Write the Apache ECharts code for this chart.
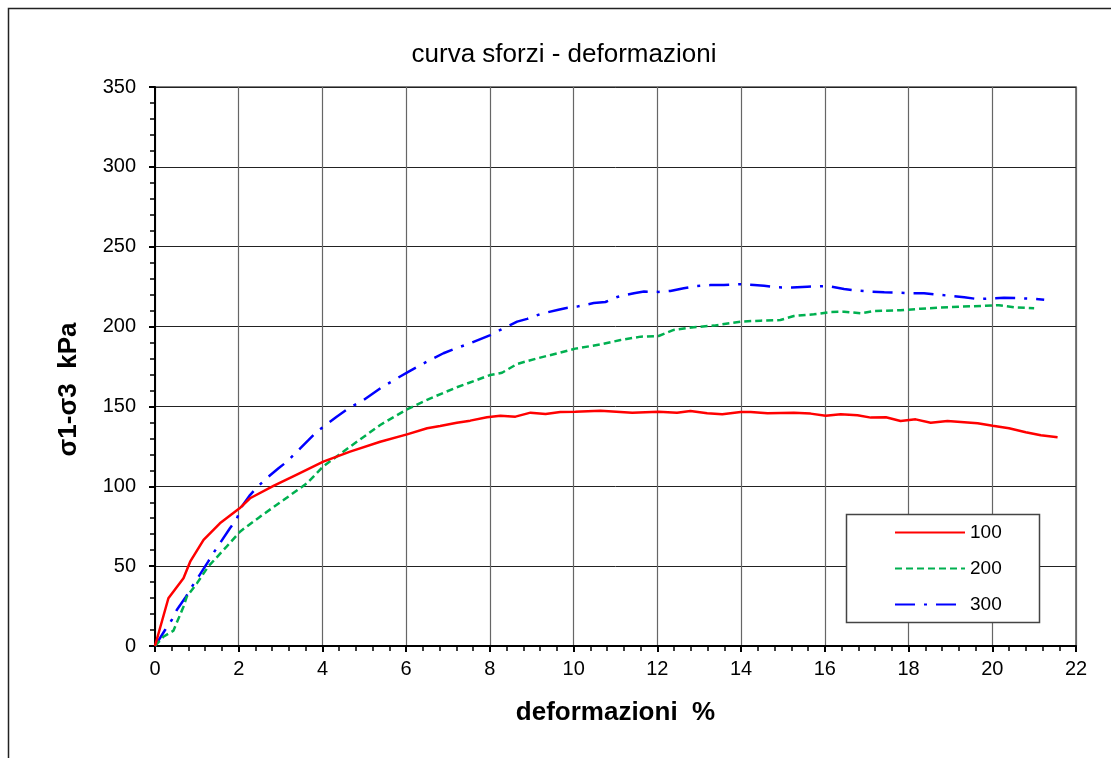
<!DOCTYPE html>
<html>
<head>
<meta charset="utf-8">
<script src="https://cdn.jsdelivr.net/npm/echarts@6/dist/echarts.min.js"></script>
<style>html,body{margin:0;padding:0;background:#fff}#c{width:1111px;height:758px}</style>
</head>
<body>
<div id="c"></div>
<script>
const seriesNames = ['100', '200', '300'];
const xTicks = [0, 2, 4, 6, 8, 10, 12, 14, 16, 18, 20, 22];
const yTicks = [0, 50, 100, 150, 200, 250, 300, 350];

const x100 = [0, 0.32, 0.68, 0.84, 1.16, 1.55, 2.02, 2.27, 2.83, 3.4, 4.02, 4.66, 5.38, 6.02, 6.5, 6.81, 7.21, 7.53, 7.93, 8.25, 8.61, 8.97, 9.33, 9.68, 10.04, 10.64, 11.4, 12.03, 12.47, 12.79, 13.19, 13.55, 13.99, 14.23, 14.63, 15.26, 15.66, 16.02, 16.38, 16.78, 17.1, 17.46, 17.81, 18.17, 18.53, 18.93, 19.65, 20.01, 20.4, 20.8, 21.16, 21.56];
const y100 = [0, 29.9, 42.4, 52.8, 66.4, 76.8, 86.2, 92.5, 100.2, 107.5, 115.4, 121.7, 127.9, 132.5, 136.3, 137.8, 139.8, 141.1, 143.2, 144.2, 143.6, 146.1, 145.3, 146.5, 146.7, 147.3, 146.1, 146.7, 146.1, 147.1, 145.7, 145.1, 146.5, 146.5, 145.7, 146.1, 145.5, 144.2, 145.1, 144.5, 143.0, 143.2, 140.9, 141.9, 139.8, 140.9, 139.5, 137.9, 136.3, 133.8, 131.9, 130.7];

const x200 = [0, 0.2, 0.44, 0.68, 0.76, 1.0, 1.27, 1.71, 2.03, 2.51, 3.07, 3.63, 4.02, 4.66, 5.38, 6.02, 6.58, 7.21, 7.69, 8.01, 8.29, 8.65, 9.13, 9.68, 10.04, 10.64, 11.12, 11.6, 12.03, 12.39, 12.87, 13.35, 13.99, 14.47, 14.94, 15.26, 15.74, 16.14, 16.46, 16.86, 17.18, 17.81, 18.29, 18.77, 19.25, 19.73, 20.16, 20.52, 21.0];
const y200 = [0, 5.8, 9.6, 24.6, 30.9, 39.2, 49.7, 62.2, 71.6, 81.0, 91.4, 101.9, 112.5, 124.8, 138.4, 148.2, 155.1, 162.0, 166.6, 169.7, 171.1, 176.6, 180.1, 183.7, 186.2, 188.8, 191.6, 193.7, 194.1, 197.9, 199.6, 200.6, 203.1, 203.7, 204.1, 206.6, 207.7, 209.1, 209.3, 208.3, 209.8, 210.2, 211.2, 211.9, 212.5, 212.9, 213.4, 212.1, 211.5];

const x300 = [0, 0.24, 0.4, 0.52, 0.74, 0.88, 1.04, 1.27, 1.39, 1.55, 1.79, 1.94, 2.07, 2.27, 2.45, 2.67, 2.95, 3.15, 3.39, 3.67, 3.83, 4.02, 4.34, 4.62, 4.98, 5.42, 5.78, 6.06, 6.5, 6.89, 7.13, 7.53, 8.01, 8.25, 8.65, 8.89, 9.21, 9.61, 9.8, 10.08, 10.48, 10.76, 11.04, 11.44, 11.68, 12.03, 12.31, 12.63, 12.95, 13.27, 13.59, 13.99, 14.31, 14.55, 14.87, 15.22, 15.58, 16.06, 16.46, 16.78, 17.1, 17.42, 17.73, 18.05, 18.37, 18.93, 19.33, 19.65, 19.96, 20.28, 20.6, 21.0, 21.24];
const y300 = [0, 10.0, 16.3, 22.5, 30.9, 37.1, 43.4, 52.8, 58.0, 64.3, 73.7, 78.9, 87.2, 94.5, 99.7, 105.1, 111.3, 115.4, 121.7, 129.0, 133.2, 137.3, 143.6, 148.8, 154.0, 162.0, 167.6, 171.8, 178.1, 183.3, 185.8, 189.6, 194.7, 197.9, 203.1, 204.8, 207.9, 210.4, 211.5, 212.5, 214.7, 215.4, 218.5, 220.9, 221.9, 221.7, 222.3, 224.0, 225.4, 226.0, 226.0, 226.5, 226.0, 225.6, 224.6, 224.4, 225.0, 225.4, 223.5, 222.5, 221.9, 221.5, 221.3, 220.9, 220.9, 219.4, 218.4, 217.2, 217.6, 218.0, 217.8, 217.4, 216.8];

const pairs = (xs, ys) => xs.map((x, i) => [x, ys[i]]);
const FONT = "'Liberation Sans', Arial, sans-serif";

const chart = echarts.init(document.getElementById('c'), null, {renderer: 'canvas'});
chart.setOption({
  backgroundColor: '#fff',
  animation: false,
  title: {
    text: 'curva sforzi - deformazioni',
    left: 559, top: 37, textAlign: 'center',
    textStyle: {fontFamily: FONT, fontSize: 26, fontWeight: 'normal', color: '#000'}
  },
  graphic: [
    {type: 'rect', shape: {x: 8.5, y: 8.5, width: 1200, height: 800},
     style: {fill: 'none', stroke: '#222', lineWidth: 1.5}, z: -1},
    {type: 'rect', shape: {x: 846.5, y: 514.5, width: 193, height: 108},
     style: {fill: '#fff', stroke: '#444', lineWidth: 1.5}, z: 50}
  ],
  legend: {
    orient: 'vertical', left: 889, top: 518, z: 60,
    icon: 'inherit',
    itemWidth: 70, itemHeight: 14, itemGap: 17,
    itemStyle: {opacity: 0},
    data: seriesNames,
    textStyle: {fontFamily: FONT, fontSize: 19, color: '#000', padding: [0, 0, 0, 0]}
  },
  grid: {left: 155, top: 87, right: 35, bottom: 112, show: true, borderColor: '#555', borderWidth: 1.5, containLabel: false},
  xAxis: {
    type: 'value', min: 0, max: 22, interval: 2,
    name: 'deformazioni  %', nameLocation: 'middle', nameGap: 54,
    nameTextStyle: {fontFamily: FONT, fontSize: 26, fontWeight: 'bold', color: '#000'},
    axisLine: {onZero: false, lineStyle: {color: '#000', width: 2}},
    axisTick: {show: true, length: 6, lineStyle: {color: '#000', width: 2}},
    minorTick: {show: true, splitNumber: 5, length: 5, lineStyle: {color: '#000', width: 1.5}},
    axisLabel: {fontFamily: FONT, fontSize: 20, color: '#000', margin: 13,
      formatter: v => xTicks.includes(v) ? String(v) : ''},
    splitLine: {show: true, lineStyle: {color: '#666', width: 1.2}}
  },
  yAxis: {
    type: 'value', min: 0, max: 350, interval: 50,
    name: 'σ1-σ3  kPa', nameLocation: 'middle', nameGap: 73, nameRotate: 90,
    nameTextStyle: {fontFamily: FONT, fontSize: 26, fontWeight: 'bold', color: '#000', padding: [0, 46, 0, 0]},
    axisLine: {onZero: false, lineStyle: {color: '#000', width: 2}},
    axisTick: {show: true, length: 6, lineStyle: {color: '#000', width: 2}},
    minorTick: {show: true, splitNumber: 5, length: 5, lineStyle: {color: '#000', width: 1.5}},
    axisLabel: {fontFamily: FONT, fontSize: 20, color: '#000', margin: 19,
      formatter: v => yTicks.includes(v) ? String(v) : ''},
    splitLine: {show: true, lineStyle: {color: '#222', width: 1}}
  },
  series: [
    {name: seriesNames[0], type: 'line', data: pairs(x100, y100), showSymbol: false, symbol: 'none',
     lineStyle: {color: '#ff0000', width: 2.5, type: 'solid'}, itemStyle: {color: '#ff0000'}, z: 5},
    {name: seriesNames[1], type: 'line', data: pairs(x200, y200), showSymbol: false, symbol: 'none',
     lineStyle: {color: '#00b050', width: 2.5, type: [7, 4]}, itemStyle: {color: '#00b050'}, z: 4},
    {name: seriesNames[2], type: 'line', data: pairs(x300, y300), showSymbol: false, symbol: 'none',
     lineStyle: {color: '#0000ff', width: 2.5, type: [20, 9, 3, 9]}, itemStyle: {color: '#0000ff'}, z: 3}
  ]
});
</script>
</body>
</html>
